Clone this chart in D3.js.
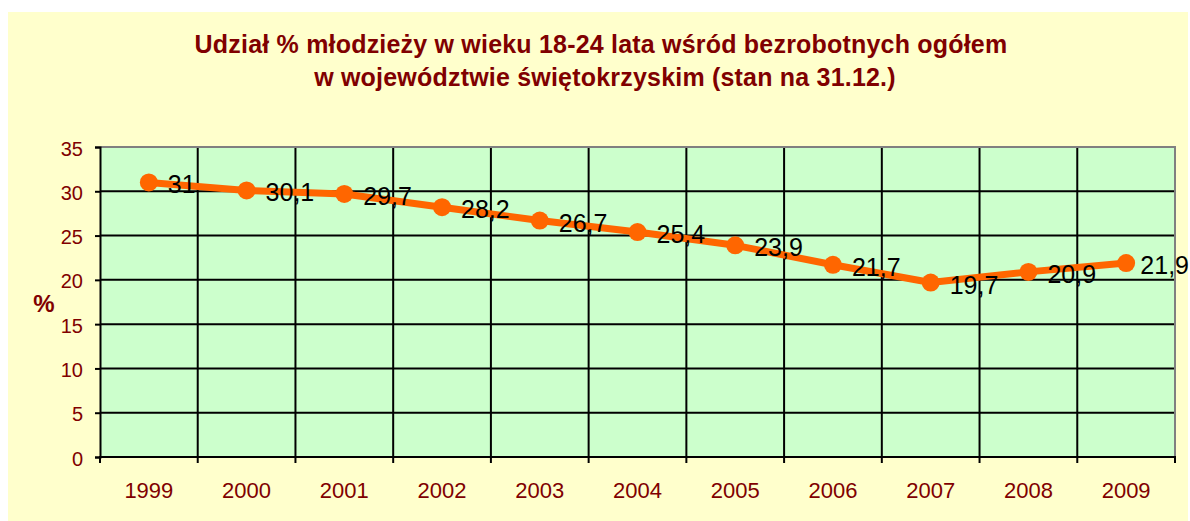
<!DOCTYPE html>
<html>
<head>
<meta charset="utf-8">
<script src="https://cdn.jsdelivr.net/npm/d3@7"></script>
<style>
  html, body { margin: 0; padding: 0; background: #ffffff; overflow: hidden; }
  svg { display: block; font-family: Arial, "Liberation Sans", sans-serif; }
</style>
</head>
<body>
<svg id="chart" width="1190" height="521"></svg>
<script>
// Share of youth aged 18-24 among all unemployed, Świętokrzyskie (as of 31.12.)
const years = ["1999", "2000", "2001", "2002", "2003", "2004", "2005", "2006", "2007", "2008", "2009"];
const shares = [31, 30.1, 29.7, 28.2, 26.7, 25.4, 23.9, 21.7, 19.7, 20.9, 21.9];
const yTicks = [0, 5, 10, 15, 20, 25, 30, 35];
const titleLines = [
  "Udział % młodzieży w wieku 18-24 lata wśród bezrobotnych ogółem",
  "w województwie świętokrzyskim (stan na 31.12.)"
];

const W = 1190, H = 521;
const plot = { left: 100, top: 147, right: 1175, bottom: 457 };

const svg = d3.select("#chart");

// outer chart panel
svg.append("rect")
  .attr("x", 8).attr("y", 12)
  .attr("width", 1180).attr("height", H - 12)
  .attr("fill", "#ffffcc");

const x = d3.scaleBand().domain(years).range([plot.left, plot.right]).paddingInner(0).paddingOuter(0);
const y = d3.scaleLinear().domain([0, 35]).range([plot.bottom, plot.top]);

// plot area
svg.append("rect")
  .attr("x", plot.left).attr("y", plot.top)
  .attr("width", plot.right - plot.left).attr("height", plot.bottom - plot.top)
  .attr("fill", "#ccffcc");

// horizontal gridlines
svg.append("g")
  .selectAll("line")
  .data(yTicks.filter(t => t > 0 && t < 35))
  .join("line")
  .attr("x1", plot.left).attr("x2", plot.right)
  .attr("y1", d => y(d)).attr("y2", d => y(d))
  .attr("stroke", "#000").attr("stroke-width", 2);

// vertical gridlines at category boundaries
svg.append("g")
  .selectAll("line")
  .data(years.slice(1))
  .join("line")
  .attr("x1", d => x(d)).attr("x2", d => x(d))
  .attr("y1", plot.top).attr("y2", plot.bottom)
  .attr("stroke", "#000").attr("stroke-width", 2);

// gray frame on top and right
svg.append("path")
  .attr("d", `M${plot.left},${plot.top}H${plot.right}V${plot.bottom}`)
  .attr("fill", "none").attr("stroke", "#808080").attr("stroke-width", 2);

// y axis
const yAxis = svg.append("g")
  .attr("transform", `translate(${plot.left},0)`)
  .call(d3.axisLeft(y).tickValues(yTicks).tickSize(5).tickPadding(12));
yAxis.select(".domain").attr("stroke", "#000").attr("stroke-width", 2);
yAxis.selectAll(".tick line").attr("stroke", "#000").attr("stroke-width", 2);
yAxis.selectAll(".tick text")
  .attr("fill", "#800000")
  .attr("font-size", "20px")
  .attr("font-family", "Arial, 'Liberation Sans', sans-serif")
  .attr("dy", "0.4em");

// x axis: ticks on category boundaries, labels at centres
const xAxisG = svg.append("g").attr("transform", `translate(0,${plot.bottom})`);
xAxisG.append("line")
  .attr("x1", plot.left - 1).attr("x2", plot.right + 1)
  .attr("stroke", "#000").attr("stroke-width", 2);
const boundaries = years.map(d => x(d)).concat([plot.right]);
xAxisG.selectAll("line.tk")
  .data(boundaries)
  .join("line").attr("class", "tk")
  .attr("x1", d => d).attr("x2", d => d)
  .attr("y1", 0).attr("y2", 6)
  .attr("stroke", "#000").attr("stroke-width", 2);
xAxisG.selectAll("text")
  .data(years)
  .join("text")
  .attr("x", d => x(d) + x.bandwidth() / 2)
  .attr("y", 41)
  .attr("text-anchor", "middle")
  .attr("fill", "#800000")
  .attr("font-size", "22px")
  .text(d => d);

// y axis title
svg.append("text")
  .attr("x", 44).attr("y", 312)
  .attr("text-anchor", "middle")
  .attr("fill", "#800000")
  .attr("font-size", "24px")
  .attr("font-weight", "bold")
  .text("%");

// chart title
svg.append("g")
  .selectAll("text")
  .data(titleLines)
  .join("text")
  .attr("x", (d, i) => i === 0 ? 601 : 605)
  .attr("y", (d, i) => 53 + i * 33)
  .attr("text-anchor", "middle")
  .attr("fill", "#800000")
  .attr("font-size", "25px")
  .attr("font-weight", "bold")
  .attr("letter-spacing", "0.2px")
  .text(d => d);

// series
const pts = years.map((yr, i) => ({ yr, v: shares[i] }));
const cx = d => x(d.yr) + x.bandwidth() / 2;

svg.append("path")
  .datum(pts)
  .attr("d", d3.line().x(cx).y(d => y(d.v)))
  .attr("fill", "none")
  .attr("stroke", "#ff6600")
  .attr("stroke-width", 7)
  .attr("stroke-linejoin", "round");

svg.append("g")
  .selectAll("circle")
  .data(pts)
  .join("circle")
  .attr("cx", cx).attr("cy", d => y(d.v))
  .attr("r", 9)
  .attr("fill", "#ff6600");

// value labels (kept inside the drawing width)
const fmt = v => String(v).replace(".", ",");
svg.append("g")
  .selectAll("text")
  .data(pts)
  .join("text")
  .attr("y", d => y(d.v) + 11)
  .attr("fill", "#000")
  .attr("font-size", "25px")
  .text(d => fmt(d.v))
  .attr("x", function (d) {
    const w = this.getComputedTextLength();
    return Math.min(cx(d) + 19, W - 1 - w);
  });
</script>
</body>
</html>
